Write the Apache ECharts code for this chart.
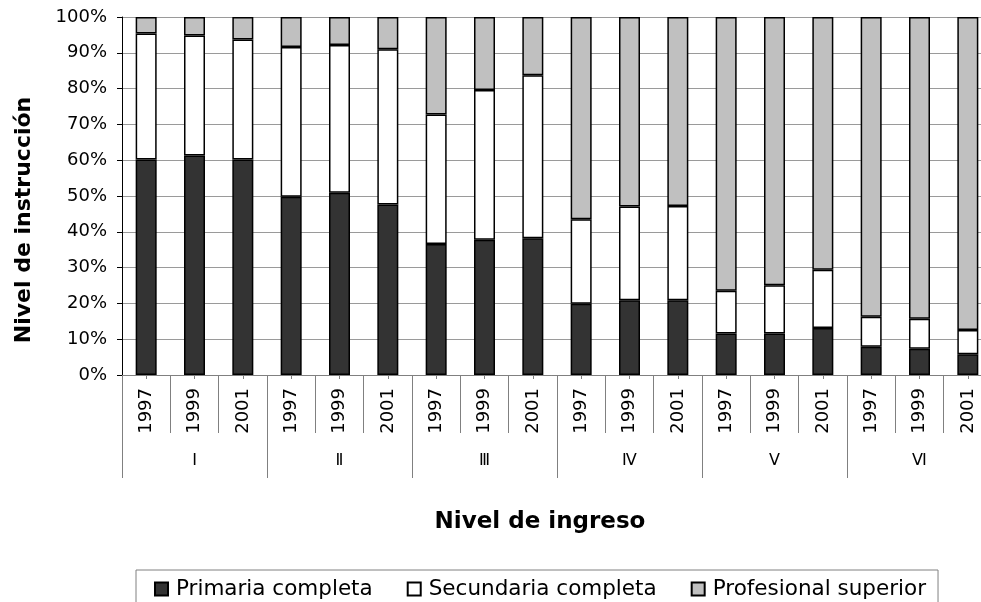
<!DOCTYPE html>
<html>
<head>
<meta charset="utf-8">
<title>Nivel de instrucción por nivel de ingreso</title>
<script src="https://cdn.jsdelivr.net/npm/echarts@6/dist/echarts.min.js"></script>
<style>
  html, body { margin: 0; padding: 0; background: #fff; }
  #chart { width: 981px; height: 602px; }
</style>
</head>
<body>
<div id="chart"></div>
<script>
// años por grupo de ingreso
const years = [
  '1997', '1999', '2001', '1997', '1999', '2001', '1997', '1999', '2001',
  '1997', '1999', '2001', '1997', '1999', '2001', '1997', '1999', '2001'
]
const incomeLevels = ['Ⅰ', 'Ⅱ', 'Ⅲ', 'Ⅳ', 'Ⅴ', 'Ⅵ']
const yTicks = [0, 10, 20, 30, 40, 50, 60, 70, 80, 90, 100]

// porcentajes
const primaria = [60.2, 61.3, 60.2, 49.8, 50.9, 47.6, 36.6, 37.8, 38.2, 19.9, 20.9, 20.9, 11.6, 11.6, 13.1, 7.9, 7.3, 5.8]
const secundaria = [35.2, 33.5, 33.5, 41.8, 41.3, 43.4, 36.2, 41.8, 45.5, 23.6, 26.2, 26.3, 11.9, 13.5, 16.3, 8.4, 8.4, 6.8]
const profesional = [4.6, 5.2, 6.3, 8.4, 7.8, 9.0, 27.2, 20.4, 16.3, 56.5, 52.9, 52.8, 76.5, 74.9, 70.6, 83.7, 84.3, 87.4]

const FONT = '"DejaVu Sans", sans-serif'

const chart = echarts.init(document.getElementById('chart'), null, { renderer: 'canvas' })

function barSeries(name, data, color) {
  return {
    name: name,
    type: 'bar',
    stack: 'total',
    barWidth: 21,
    xAxisIndex: 0,
    yAxisIndex: 0,
    data: data,
    itemStyle: { color: color, borderColor: '#000', borderWidth: 1.5 },
    emphasis: { disabled: true }
  }
}

const option = {
  animation: false,
  // el gráfico original queda recortado por la derecha
  grid: { left: 122, top: 17, width: 870, bottom: 227, containLabel: false, outerBoundsMode: 'none' },
  legend: {
    left: 136,
    top: 570,
    padding: [8, 12, 8, 18],
    itemGap: 34,
    itemWidth: 13,
    itemHeight: 13,
    icon: 'rect',
    borderColor: '#808080',
    borderWidth: 1,
    textStyle: { fontFamily: FONT, fontSize: 21.5, color: '#000', padding: [0, 0, 0, 3] },
    data: ['Primaria completa', 'Secundaria completa', 'Profesional superior']
  },
  xAxis: [
    {
      // años
      type: 'category',
      data: years,
      position: 'bottom',
      axisLine: { show: true, lineStyle: { color: '#808080', width: 1 } },
      axisTick: { show: true, interval: 0, alignWithLabel: false, length: 58, lineStyle: { color: '#808080' } },
      axisLabel: { interval: 0, rotate: 90, margin: 13, fontFamily: FONT, fontSize: 18, color: '#000' },
      splitLine: { show: false }
    },
    {
      // niveles de ingreso
      type: 'category',
      data: incomeLevels,
      position: 'bottom',
      offset: 0,
      axisLine: { show: false },
      axisTick: { show: true, interval: 0, alignWithLabel: false, length: 103, lineStyle: { color: '#808080' } },
      axisLabel: { interval: 0, margin: 78, fontFamily: FONT, fontSize: 16, color: '#000' },
      splitLine: { show: false }
    },
    {
      // marcas cortas bajo cada barra
      type: 'category',
      data: years,
      position: 'bottom',
      axisLine: { show: false },
      axisTick: { show: true, interval: 0, alignWithLabel: true, length: 4, lineStyle: { color: '#808080' } },
      axisLabel: { show: false },
      splitLine: { show: false }
    }
  ],
  yAxis: {
    type: 'value',
    min: yTicks[0],
    max: yTicks[yTicks.length - 1],
    interval: 10,
    axisLine: { show: true, lineStyle: { color: '#000', width: 1 } },
    axisTick: { show: true, length: 5, lineStyle: { color: '#000' } },
    axisLabel: { margin: 15, formatter: '{value}%', fontFamily: FONT, fontSize: 18, color: '#000' },
    splitLine: { show: true, lineStyle: { color: '#9a9a9a', width: 1 } }
  },
  graphic: [
    {
      type: 'text',
      x: 24,
      y: 220,
      rotation: Math.PI / 2,
      style: {
        text: 'Nivel de instrucción',
        fontFamily: FONT,
        fontWeight: 'bold',
        fontSize: 22,
        fill: '#000',
        align: 'center',
        verticalAlign: 'middle'
      }
    },
    {
      type: 'text',
      x: 540,
      y: 522,
      style: {
        text: 'Nivel de ingreso',
        fontFamily: FONT,
        fontWeight: 'bold',
        fontSize: 23,
        fill: '#000',
        align: 'center',
        verticalAlign: 'middle'
      }
    }
  ],
  series: [
    barSeries('Primaria completa', primaria, '#333333'),
    barSeries('Secundaria completa', secundaria, '#ffffff'),
    barSeries('Profesional superior', profesional, '#c0c0c0')
  ]
}

chart.setOption(option)
</script>
</body>
</html>
